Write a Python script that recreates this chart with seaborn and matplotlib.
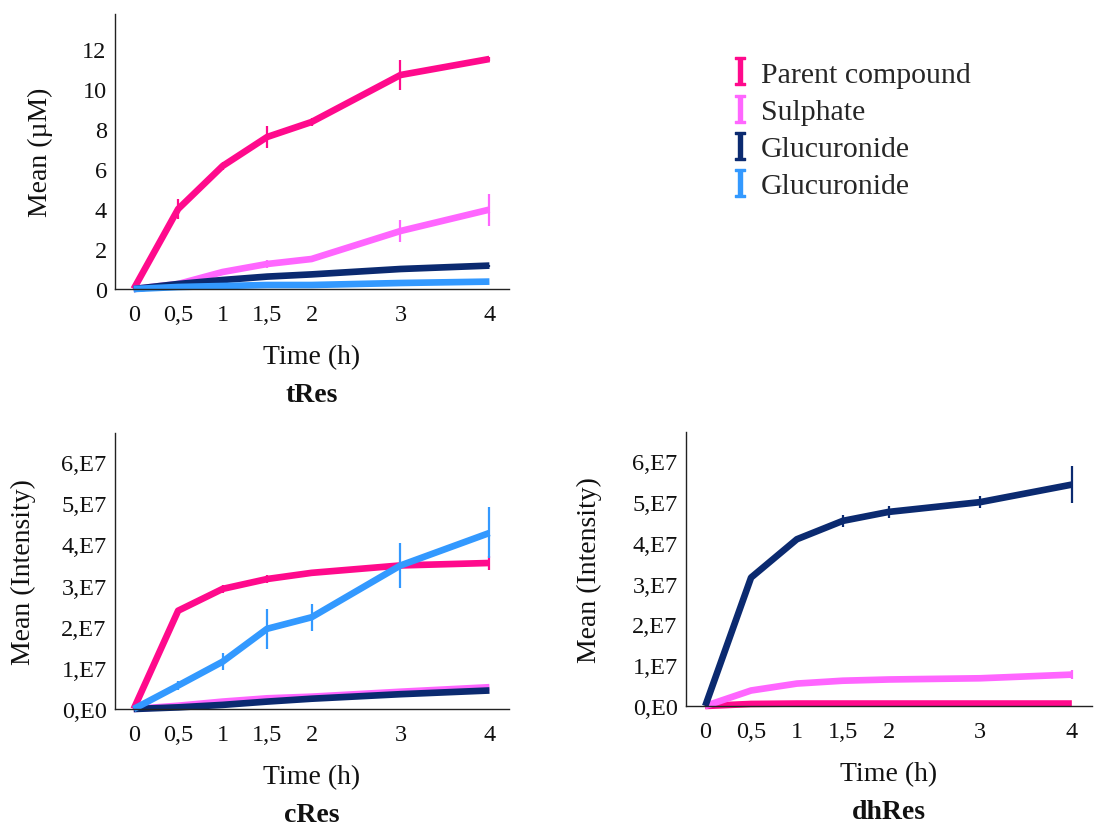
import numpy as np
import pandas as pd
import matplotlib
matplotlib.use("Agg")
import matplotlib.pyplot as plt
from matplotlib.lines import Line2D
from matplotlib.ticker import FuncFormatter
import seaborn as sns

sns.set_theme(style="white")
plt.rcParams['font.family'] = ['Liberation Serif', 'DejaVu Serif']
plt.rcParams['mathtext.fontset'] = 'dejavuserif'

################################################
# Data
################################################
time_h = [0, 0.5, 1, 1.5, 2, 3, 4]
time_labels = ["0", "0,5", "1", "1,5", "2", "3", "4"]

series_names = ["Parent compound", "Sulphate", "Glucuronide", "Glucuronide "]
series_colors = ["#FF0A8C", "#FF66FF", "#0B2A70", "#3399FF"]

# tRes (uM)
tres_parent = [0, 4.0, 6.15, 7.6, 8.35, 10.7, 11.5]
tres_parent_err = [0, 0.5, 0.2, 0.55, 0.2, 0.75, 0.1]
tres_sulph = [0, 0.25, 0.85, 1.25, 1.5, 2.9, 3.97]
tres_sulph_err = [0, 0.05, 0.05, 0.2, 0.05, 0.55, 0.8]
tres_gluc = [0, 0.25, 0.45, 0.62, 0.73, 1.0, 1.17]
tres_gluc_err = [0, 0, 0.03, 0.05, 0.03, 0.05, 0.05]
tres_gluc2 = [0, 0.1, 0.15, 0.2, 0.2, 0.3, 0.37]
tres_gluc2_err = [0, 0, 0, 0, 0, 0, 0]

# cRes (intensity)
cres_parent = [0, 2.39e7, 2.92e7, 3.16e7, 3.31e7, 3.49e7, 3.55e7]
cres_parent_err = [0, 0, 0.1e7, 0.1e7, 0, 0, 0.18e7]
cres_sulph = [0, 0.08e7, 0.18e7, 0.26e7, 0.3e7, 0.42e7, 0.53e7]
cres_sulph_err = [0, 0, 0, 0, 0, 0, 0]
cres_gluc = [0, 0.04e7, 0.1e7, 0.18e7, 0.25e7, 0.36e7, 0.45e7]
cres_gluc_err = [0, 0, 0, 0, 0, 0, 0]
cres_gluc2 = [0, 0.57e7, 1.15e7, 1.95e7, 2.23e7, 3.49e7, 4.28e7]
cres_gluc2_err = [0, 0.1e7, 0.21e7, 0.49e7, 0.33e7, 0.55e7, 0.62e7]

# dhRes (intensity)
dhres_parent = [0, 0.05e7, 0.06e7, 0.06e7, 0.06e7, 0.06e7, 0.06e7]
dhres_parent_err = [0, 0, 0, 0, 0, 0, 0]
dhres_sulph = [0, 0.38e7, 0.55e7, 0.62e7, 0.65e7, 0.68e7, 0.77e7]
dhres_sulph_err = [0, 0, 0, 0, 0, 0, 0.12e7]
dhres_gluc = [0, 3.15e7, 4.09e7, 4.54e7, 4.76e7, 5.0e7, 5.43e7]
dhres_gluc_err = [0, 0, 0.05e7, 0.15e7, 0.15e7, 0.15e7, 0.45e7]

panels = [
  ("tRes", "Mean (\u00b5M)",
   [tres_parent, tres_sulph, tres_gluc, tres_gluc2],
   [tres_parent_err, tres_sulph_err, tres_gluc_err, tres_gluc2_err]),
  ("cRes", "Mean (Intensity)",
   [cres_parent, cres_sulph, cres_gluc, cres_gluc2],
   [cres_parent_err, cres_sulph_err, cres_gluc_err, cres_gluc2_err]),
  ("dhRes", "Mean (Intensity)",
   [dhres_parent, dhres_sulph, dhres_gluc, None],
   [dhres_parent_err, dhres_sulph_err, dhres_gluc_err, None]),
]

################################################
# Layout (figure fractions)
################################################
W, H = 1099, 828
def px_rect(left, top, right, bottom):
  return [left / W, 1 - bottom / H, (right - left) / W, (bottom - top) / H]

axes_rects = [
  px_rect(115, 15, 509, 290),
  px_rect(115, 434, 509, 710),
  px_rect(686, 433, 1092, 707),
]
ylims = [(0, 13.75), (0, 6.71e7), (0, 6.72e7)]
yticks = [np.arange(0, 13, 2), np.arange(0, 6.1e7, 1e7), np.arange(0, 6.1e7, 1e7)]

def intensity_fmt(v, pos):
  if v == 0:
    return "0,E0"
  return f"{v / 1e7:.0f},E7"

fig = plt.figure(figsize=(W / 100, H / 100), dpi=100)

for i, (name, ylabel, means, errs) in enumerate(panels):
  ax = fig.add_axes(axes_rects[i])
  rows = []
  for s, (m, e) in enumerate(zip(means, errs)):
    if m is None:
      continue
    for t, v, er in zip(time_h, m, e):
      rows.append({'time': t, 'mean': v, 'err': er, 'series': series_names[s]})
  df = pd.DataFrame(rows)
  palette = dict(zip(series_names, series_colors))

  for sname, sub in df.groupby('series', sort=False):
    sns.lineplot(data=sub, x='time', y='mean', color=palette[sname],
                 linewidth=4.8, legend=False, ax=ax, clip_on=False,
                 solid_capstyle='butt')
    ebar = sub[sub['err'] > 0]
    ax.errorbar(ebar['time'], ebar['mean'], yerr=ebar['err'], fmt='none',
                ecolor=palette[sname], elinewidth=1.6, capsize=0, clip_on=False)

  ax.set_xlim(-0.21, 4.22)
  ax.set_ylim(*ylims[i])
  ax.set_xticks(time_h)
  ax.set_xticklabels(time_labels)
  ax.set_yticks(yticks[i])
  if i > 0:
    ax.yaxis.set_major_formatter(FuncFormatter(intensity_fmt))
  ax.tick_params(axis='both', length=0, labelsize=17.5, colors='#111111')
  ax.tick_params(axis='x', pad=11)
  ax.tick_params(axis='y', pad=6)
  for sp in ['top', 'right']:
    ax.spines[sp].set_visible(False)
  for sp in ['left', 'bottom']:
    ax.spines[sp].set_color('#222222')
    ax.spines[sp].set_linewidth(1.0)

  ax.set_xlabel("Time (h)", fontsize=20, color='#111111')
  ax.set_ylabel(ylabel, fontsize=20, color='#111111')
  ax.xaxis.label.set_verticalalignment('center')
  ax.yaxis.label.set_verticalalignment('center')
  axw = axes_rects[i][2] * W
  axh = axes_rects[i][3] * H
  ylab_off = [75, 92, 97][i]
  ax.yaxis.set_label_coords(-ylab_off / axw, 0.5)
  ax.xaxis.set_label_coords(0.5, -68 / axh)
  ax.annotate(name, xy=(0.5, 0), xycoords='axes fraction',
              xytext=(0, -106 * 0.72), textcoords='offset points',
              ha='center', va='center', fontsize=20, fontweight='bold',
              color='#111111')

################################################
# Legend
################################################
handles = [Line2D([], [], linestyle='none', marker=r'$\mathrm{I}$',
                  markersize=20, color=c) for c in series_colors]
fig.legend(handles, ["Parent compound", "Sulphate", "Glucuronide", "Glucuronide"],
           loc='upper left', bbox_to_anchor=(728 / W, 1 - 62 / H),
           frameon=False, fontsize=21.5, handlelength=0.8, handletextpad=0.3,
           labelspacing=0.34, borderaxespad=0, borderpad=0)

plt.savefig("out.png", dpi=100)
